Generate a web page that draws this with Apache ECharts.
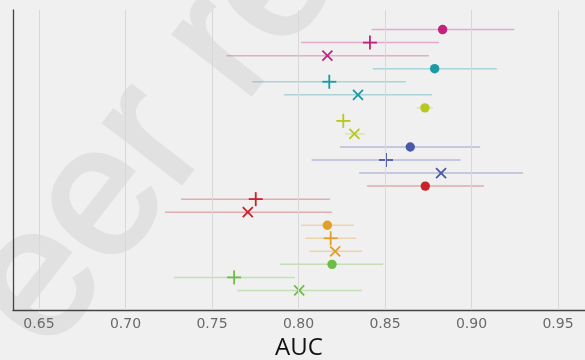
<!DOCTYPE html>
<html>
<head>
<meta charset="utf-8">
<script src="https://cdn.jsdelivr.net/npm/echarts@6/dist/echarts.min.js"></script>
<style>html,body{margin:0;padding:0;background:#f0f0f0;}#c{width:585px;height:360px;}</style>
</head>
<body>
<div id="c"></div>
<script>
// 7 groups (colours), each with three markers: circle, plus, cross
const groups = ['G1', 'G2', 'G3', 'G4', 'G5', 'G6', 'G7'];
const markerTypes = ['circle', 'plus', 'cross'];

const aucCircle = [0.8833, 0.8787, 0.8731, 0.8646, 0.8733, 0.8167, 0.8194];
const lowCircle = [0.8423, 0.8429, 0.8684, 0.8240, 0.8396, 0.8016, 0.7893];
const highCircle = [0.9247, 0.9146, 0.8777, 0.9050, 0.9072, 0.8321, 0.8490];

const aucPlus = [0.8413, 0.8178, 0.8259, 0.8506, 0.7753, 0.8186, 0.7628];
const lowPlus = [0.8014, 0.7733, 0.8221, 0.8076, 0.7321, 0.8039, 0.7280];
const highPlus = [0.8812, 0.8621, 0.8303, 0.8937, 0.8182, 0.8332, 0.7980];

const aucCross = [0.8167, 0.8344, 0.8323, 0.8824, 0.7707, 0.8212, 0.8004];
const lowCross = [0.7585, 0.7916, 0.8269, 0.8350, 0.7228, 0.8061, 0.7646];
const highCross = [0.8754, 0.8772, 0.8384, 0.9298, 0.8193, 0.8367, 0.8367];

const xTicks = [0.65, 0.70, 0.75, 0.80, 0.85, 0.90, 0.95];

const groupColors = ['#c4217c', '#1b9aa5', '#b7c820', '#4b58a8', '#c9222a', '#e19f28', '#6bbd44'];

const aucByType = [aucCircle, aucPlus, aucCross];
const lowByType = [lowCircle, lowPlus, lowCross];
const highByType = [highCircle, highPlus, highCross];

const data = [];
groups.forEach((g, gi) => {
  markerTypes.forEach((m, ti) => {
    data.push([aucByType[ti][gi], gi * 3 + ti, lowByType[ti][gi], highByType[ti][gi], ti, gi]);
  });
});

const chart = echarts.init(document.getElementById('c'), null, {renderer: 'canvas'});

function renderItem(params, api) {
  const x = api.value(0), y = api.value(1), lo = api.value(2), hi = api.value(3);
  const t = api.value(4), g = api.value(5);
  const color = groupColors[g];
  const p = api.coord([x, y]);
  const pl = api.coord([lo, y]);
  const ph = api.coord([hi, y]);
  const children = [{
    type: 'line',
    shape: {x1: pl[0], y1: pl[1], x2: ph[0], y2: ph[1]},
    style: {stroke: color, opacity: 0.33, lineWidth: 1.5}
  }];
  if (t === 0) {
    children.push({type: 'circle', shape: {cx: p[0], cy: p[1], r: 4.7}, style: {fill: color}});
  } else if (t === 1) {
    const h = 7;
    children.push({type: 'line', shape: {x1: p[0] - h, y1: p[1], x2: p[0] + h, y2: p[1]}, style: {stroke: color, lineWidth: 1.8}});
    children.push({type: 'line', shape: {x1: p[0], y1: p[1] - h, x2: p[0], y2: p[1] + h}, style: {stroke: color, lineWidth: 1.8}});
  } else {
    const h = 5;
    children.push({type: 'line', shape: {x1: p[0] - h, y1: p[1] - h, x2: p[0] + h, y2: p[1] + h}, style: {stroke: color, lineWidth: 1.8}});
    children.push({type: 'line', shape: {x1: p[0] - h, y1: p[1] + h, x2: p[0] + h, y2: p[1] - h}, style: {stroke: color, lineWidth: 1.8}});
  }
  return {type: 'group', children};
}

chart.setOption({
  backgroundColor: '#f0f0f0',
  animation: false,
  graphic: [{
    type: 'text',
    x: -69, y: 421,
    rotation: 52 * Math.PI / 180,
    z: -10,
    silent: true,
    style: {
      text: 'Peer review',
      fontFamily: 'Liberation Sans',
      fontSize: 185,
      fill: '#e1e1e1',
      stroke: '#e1e1e1',
      lineWidth: 4,
      align: 'left',
      verticalAlign: 'middle'
    }
  }],
  grid: {left: 13, right: 0, top: 10, bottom: 50, containLabel: false, outerBoundsMode: 'none'},
  xAxis: {
    type: 'value',
    min: 0.635,
    max: 0.9656,
    axisLine: {show: true, onZero: false, lineStyle: {color: '#444', width: 1.3}},
    axisTick: {show: false},
    splitLine: {show: false},
    axisLabel: {
      customValues: xTicks,
      formatter: v => v.toFixed(2),
      color: '#6a6a6a',
      fontSize: 14,
      fontFamily: 'DejaVu Sans',
      margin: 7
    },
    name: 'AUC',
    nameLocation: 'middle',
    nameGap: 20,
    nameTextStyle: {fontSize: 24, color: '#111', fontFamily: 'Open Sans'}
  },
  yAxis: {
    type: 'value',
    inverse: true,
    min: -1.5,
    max: 21.5,
    axisLine: {show: true, onZero: false, lineStyle: {color: '#444', width: 1.3}},
    axisTick: {show: false},
    axisLabel: {show: false},
    splitLine: {show: false}
  },
  series: [{
    type: 'scatter',
    data: [],
    z: 1,
    markLine: {
      silent: true,
      symbol: 'none',
      label: {show: false},
      lineStyle: {color: '#d8d8d8', width: 1, type: 'solid'},
      data: xTicks.map(v => ({xAxis: v}))
    }
  }, {
    type: 'custom',
    z: 3,
    renderItem: renderItem,
    data: data
  }]
});
</script>
</body>
</html>
